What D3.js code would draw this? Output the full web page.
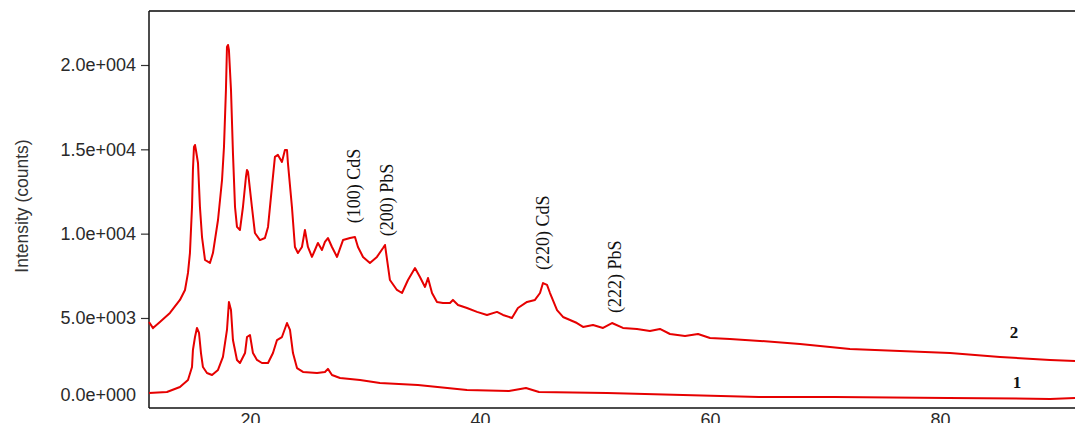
<!DOCTYPE html>
<html>
<head>
<meta charset="utf-8">
<script src="https://cdn.jsdelivr.net/npm/d3@7"></script>
<style>
  html, body { margin: 0; padding: 0; background: #fff; }
  svg { display: block; }
</style>
</head>
<body>
<svg id="chart" width="1075" height="423"></svg>
<script>
// XRD pattern, sample 2 (upper) and sample 1 (lower)
const twoTheta2 = [11.22, 11.57, 12.17, 13.04, 13.91, 14.35, 14.61, 14.78, 14.96, 15.04, 15.13, 15.22, 15.30, 15.48, 15.65, 15.83, 16.09, 16.52, 16.78, 17.22, 17.57, 17.74, 17.91, 18.00, 18.09, 18.17, 18.35, 18.52, 18.70, 18.87, 19.13, 19.39, 19.65, 19.74, 19.83, 19.91, 20.17, 20.43, 20.87, 21.30, 21.57, 21.91, 22.17, 22.43, 22.78, 23.04, 23.22, 23.30, 23.65, 23.91, 24.17, 24.52, 24.78, 25.04, 25.39, 25.65, 25.91, 26.26, 26.52, 26.78, 27.13, 27.57, 28.09, 28.70, 29.13, 29.39, 29.83, 30.43, 31.04, 31.57, 31.74, 32.17, 32.78, 33.22, 33.74, 34.35, 34.78, 35.22, 35.48, 35.83, 36.26, 36.78, 37.39, 37.65, 38.09, 38.87, 39.74, 40.61, 41.48, 42.00, 42.78, 43.30, 44.09, 44.78, 45.22, 45.48, 45.83, 46.09, 46.70, 47.22, 47.83, 48.43, 48.96, 49.83, 50.70, 51.48, 52.43, 53.65, 54.78, 55.65, 56.52, 57.83, 58.96, 60.00, 61.74, 64.35, 67.83, 72.17, 76.52, 80.87, 85.22, 89.57, 91.74];
const counts2 = [4760, 4400, 4760, 5300, 6070, 6660, 7670, 8850, 11580, 13780, 15140, 15260, 14960, 14190, 11580, 9800, 8440, 8260, 8850, 10810, 13180, 15140, 18520, 21070, 21190, 20890, 18520, 14780, 11580, 10400, 10220, 11580, 13360, 13780, 13660, 13180, 11580, 10040, 9620, 9740, 10400, 12770, 14550, 14670, 14250, 14960, 14960, 14190, 11580, 9210, 8850, 9210, 10220, 9210, 8620, 9030, 9450, 9030, 9510, 9740, 9210, 8620, 9620, 9740, 9800, 9210, 8620, 8260, 8620, 9150, 9330, 7250, 6660, 6480, 7250, 7960, 7430, 6840, 7370, 6480, 5950, 5890, 5890, 6070, 5770, 5590, 5360, 5180, 5360, 5180, 5000, 5590, 5950, 6070, 6480, 7070, 6960, 6480, 5470, 5060, 4880, 4700, 4470, 4580, 4410, 4700, 4410, 4350, 4230, 4350, 4050, 3930, 4050, 3810, 3750, 3640, 3460, 3160, 3040, 2920, 2690, 2510, 2450];

const twoTheta1 = [11.22, 12.78, 13.91, 14.61, 14.96, 15.04, 15.22, 15.39, 15.57, 15.74, 15.91, 16.26, 16.70, 17.22, 17.65, 18.00, 18.17, 18.35, 18.52, 18.87, 19.13, 19.57, 19.74, 20.00, 20.26, 20.61, 21.04, 21.57, 22.00, 22.35, 22.78, 23.22, 23.48, 23.74, 24.09, 24.61, 25.83, 26.52, 26.78, 27.13, 27.83, 29.57, 31.3, 34.6, 38.87, 42.52, 44.0, 45.13, 51.04, 57.65, 64.26, 70.87, 80.7, 89.57, 91.74];
const counts1 = [550, 610, 910, 1320, 2090, 3100, 3870, 4410, 4110, 2920, 2090, 1740, 1620, 1920, 2690, 4290, 5950, 5470, 3690, 2510, 2330, 2920, 3870, 3990, 2920, 2510, 2330, 2330, 2920, 3690, 3870, 4700, 4290, 2920, 2030, 1800, 1740, 1800, 1980, 1620, 1440, 1320, 1140, 1030, 730, 670, 850, 610, 550, 430, 310, 310, 260, 200, 260];

const yTicks = [0, 5000, 10000, 15000, 20000];
const xTicks = [20, 40, 60, 80];

const peakNames = ["(100) CdS", "(200) PbS", "(220) CdS", "(222) PbS"];
const peakAngles = [29.04, 31.91, 45.48, 51.74];
const peakLevels = [12830, 11990, 10050, 7440];

const curveNames = ["2", "1"];
const curveAngles = [86.43, 86.7];
const curveLevels = [4110, 1150];

const svg = d3.select("#chart");
const plotLeft = 149, plotRight = 1075, plotTop = 11, plotBottom = 408;

const x = d3.scaleLinear().domain([11.22, 91.74]).range([plotLeft, plotRight]);
const y = d3.scaleLinear().domain([0, 20000]).range([402.3, 65]);

// scientific label like 2.0e+004
function sciLabel(v) {
  if (v === 0) return "0.0e+000";
  const e = Math.floor(Math.log10(v));
  return (v / Math.pow(10, e)).toFixed(1) + "e+" + String(e).padStart(3, "0");
}

// frame
svg.append("line")
  .attr("x1", plotLeft).attr("x2", plotRight).attr("y1", plotTop).attr("y2", plotTop)
  .attr("stroke", "#444").attr("stroke-width", 2);

// y axis
const yAxis = svg.append("g")
  .attr("transform", `translate(${plotLeft},0)`)
  .call(d3.axisLeft(y).tickValues(yTicks).tickFormat(sciLabel).tickSize(8).tickPadding(5));
yAxis.select(".domain").remove();
yAxis.selectAll("line").attr("stroke", "#333").attr("stroke-width", 1.2);
yAxis.selectAll("text")
  .attr("fill", "#2a2a2a")
  .style("font-family", "'Liberation Sans', Arial, sans-serif")
  .style("font-size", "18px");
yAxis.selectAll(".tick").filter(d => d === 0).select("line").remove();
yAxis.selectAll(".tick").filter(d => d === 0).select("text").attr("y", -8);

svg.append("line")
  .attr("x1", plotLeft).attr("x2", plotLeft).attr("y1", plotTop).attr("y2", plotBottom)
  .attr("stroke", "#111").attr("stroke-width", 1.5);

// x axis
const xAxis = svg.append("g")
  .attr("transform", `translate(0,${plotBottom})`)
  .call(d3.axisBottom(x).tickValues(xTicks).tickSize(0).tickPadding(5));
xAxis.select(".domain").remove();
xAxis.selectAll("text")
  .attr("fill", "#2a2a2a")
  .style("font-family", "'Liberation Sans', Arial, sans-serif")
  .style("font-size", "18px");
svg.append("line")
  .attr("x1", plotLeft).attr("x2", plotRight).attr("y1", plotBottom).attr("y2", plotBottom)
  .attr("stroke", "#111").attr("stroke-width", 1.5);

// axis title
svg.append("text")
  .attr("transform", "translate(22,206) rotate(-90)")
  .attr("text-anchor", "middle")
  .attr("dominant-baseline", "central")
  .attr("fill", "#333")
  .style("font-family", "'Liberation Sans', Arial, sans-serif")
  .style("font-size", "17.5px")
  .text("Intensity (counts)");

// the two patterns
const line = d3.line().x(d => x(d[0])).y(d => y(d[1]));
const series = [d3.zip(twoTheta2, counts2), d3.zip(twoTheta1, counts1)];
svg.selectAll("path.xrd")
  .data(series)
  .enter().append("path")
  .attr("class", "xrd")
  .attr("d", line)
  .attr("fill", "none")
  .attr("stroke", "#e60000")
  .attr("stroke-width", 2)
  .attr("stroke-linejoin", "round");

// peak labels
peakNames.forEach((name, i) => {
  svg.append("text")
    .attr("transform", `translate(${x(peakAngles[i])},${y(peakLevels[i])}) rotate(-90)`)
    .attr("text-anchor", "middle")
    .attr("dominant-baseline", "central")
    .attr("fill", "#111")
    .style("font-family", "'Liberation Serif', 'Times New Roman', serif")
    .style("font-size", "18px")
    .text(name);
});

// curve numbers
curveNames.forEach((name, i) => {
  svg.append("text")
    .attr("x", x(curveAngles[i]))
    .attr("y", y(curveLevels[i]))
    .attr("text-anchor", "middle")
    .attr("dominant-baseline", "central")
    .attr("fill", "#111")
    .style("font-family", "'Liberation Serif', 'Times New Roman', serif")
    .style("font-weight", "bold")
    .style("font-size", "17px")
    .text(name);
});
</script>
</body>
</html>
